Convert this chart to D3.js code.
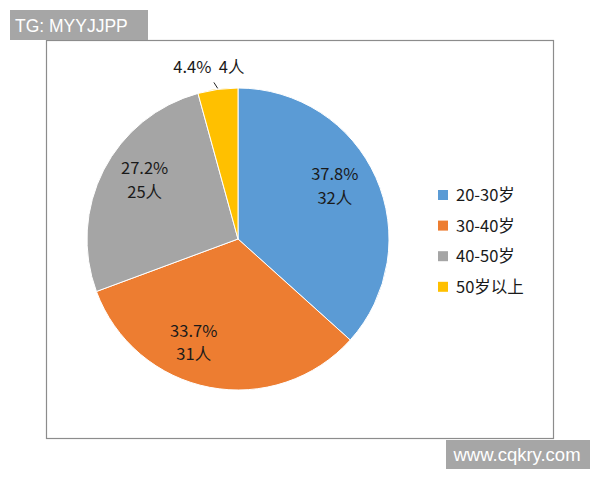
<!DOCTYPE html>
<html>
<head>
<meta charset="utf-8">
<script src="https://cdn.jsdelivr.net/npm/d3@7"></script>
<style>
  body { margin: 0; background: #fff; }
  svg { display: block; font-family: "Noto Sans CJK SC", "Noto Sans", sans-serif; }
</style>
</head>
<body>
<div id="chart"></div>
<script>
// data
var categories = ["20-30岁", "30-40岁", "40-50岁", "50岁以上"];
var percents = [37.8, 33.7, 27.2, 4.4];
var people = [32, 31, 25, 4];
var colors = ["#5B9BD5", "#ED7D31", "#A5A5A5", "#FFC000"];

var data = categories.map(function(c, i) {
  return { name: c, pct: percents[i], n: people[i], color: colors[i] };
});

var svg = d3.select("#chart").append("svg")
  .attr("width", 600)
  .attr("height", 480);

// chart frame
svg.append("rect")
  .attr("x", 46.5).attr("y", 40.5)
  .attr("width", 507).attr("height", 398)
  .attr("fill", "#fff")
  .attr("stroke", "#8c8c8c")
  .attr("stroke-width", 1.2);

var cx = 238, cy = 239, r = 151;
var fs = 16.5;

var pie = d3.pie()
  .sort(null)
  .value(function(d) { return d.pct; });

var arc = d3.arc().innerRadius(0).outerRadius(r);

var g = svg.append("g").attr("transform", "translate(" + cx + "," + cy + ")");

var arcs = pie(data);

g.selectAll("path")
  .data(arcs)
  .enter()
  .append("path")
  .attr("d", arc)
  .attr("fill", function(d) { return d.data.color; })
  .attr("stroke", "#fff")
  .attr("stroke-width", 1);

// labels inside the big slices (excel "best fit" puts them a bit off the centroid)
var labelArc = d3.arc().innerRadius(r * 0.68).outerRadius(r * 0.68);
var nudge = [[3, -14], [-25, 0], [-2, -15]];
var big = arcs.slice(0, 3);
var labels = g.selectAll(".lbl")
  .data(big)
  .enter()
  .append("text")
  .attr("class", "lbl")
  .attr("text-anchor", "middle")
  .attr("font-size", fs)
  .attr("fill", "#1a1a1a")
  .attr("transform", function(d, i) {
    var c = labelArc.centroid(d);
    return "translate(" + (c[0] + nudge[i][0]) + "," + (c[1] + nudge[i][1]) + ")";
  });
labels.append("tspan")
  .attr("x", 0).attr("dy", "-0.2em")
  .text(function(d) { return d.data.pct.toFixed(1) + "%"; });
labels.append("tspan")
  .attr("x", 0).attr("dy", "1.45em")
  .text(function(d) { return d.data.n + "人"; });

// small slice label outside with leader line
var small = arcs[3];
var mid = (small.startAngle + small.endAngle) / 2;
var p1 = [Math.sin(mid) * (r + 1), -Math.cos(mid) * (r + 1)];
var p2 = [Math.sin(mid) * (r + 7) - 3, -Math.cos(mid) * (r + 7)];
g.append("line")
  .attr("x1", p1[0]).attr("y1", p1[1])
  .attr("x2", p2[0]).attr("y2", p2[1])
  .attr("stroke", "#222")
  .attr("stroke-width", 1);
g.append("text")
  .attr("x", p2[0] - 5)
  .attr("y", p2[1] - 9)
  .attr("text-anchor", "middle")
  .attr("font-size", fs)
  .attr("fill", "#1a1a1a")
  .attr("xml:space", "preserve")
  .text(small.data.pct.toFixed(1) + "%  " + small.data.n + "人");

// legend
var legend = svg.append("g").attr("transform", "translate(438,195)");
var items = legend.selectAll("g")
  .data(data)
  .enter()
  .append("g")
  .attr("transform", function(d, i) { return "translate(0," + (i * 30.6) + ")"; });
items.append("rect")
  .attr("x", 0).attr("y", -5)
  .attr("width", 10).attr("height", 10)
  .attr("fill", function(d) { return d.color; });
items.append("text")
  .attr("x", 18).attr("y", 6)
  .attr("font-size", fs)
  .attr("fill", "#1a1a1a")
  .text(function(d) { return d.name; });

// watermark boxes
svg.append("rect")
  .attr("x", 10).attr("y", 10).attr("width", 138).attr("height", 30)
  .attr("fill", "#a6a6a6");
svg.append("text")
  .attr("x", 15).attr("y", 32)
  .attr("font-family", "Liberation Sans, Arial, sans-serif")
  .attr("font-size", 17.5)
  .attr("fill", "#fff")
  .text("TG: MYYJJPP");

svg.append("rect")
  .attr("x", 446).attr("y", 440).attr("width", 144).attr("height", 29)
  .attr("fill", "#a6a6a6");
svg.append("text")
  .attr("x", 517).attr("y", 461)
  .attr("text-anchor", "middle")
  .attr("font-family", "Liberation Sans, Arial, sans-serif")
  .attr("font-size", 18.5)
  .attr("fill", "#fff")
  .text("www.cqkry.com");
</script>
</body>
</html>
